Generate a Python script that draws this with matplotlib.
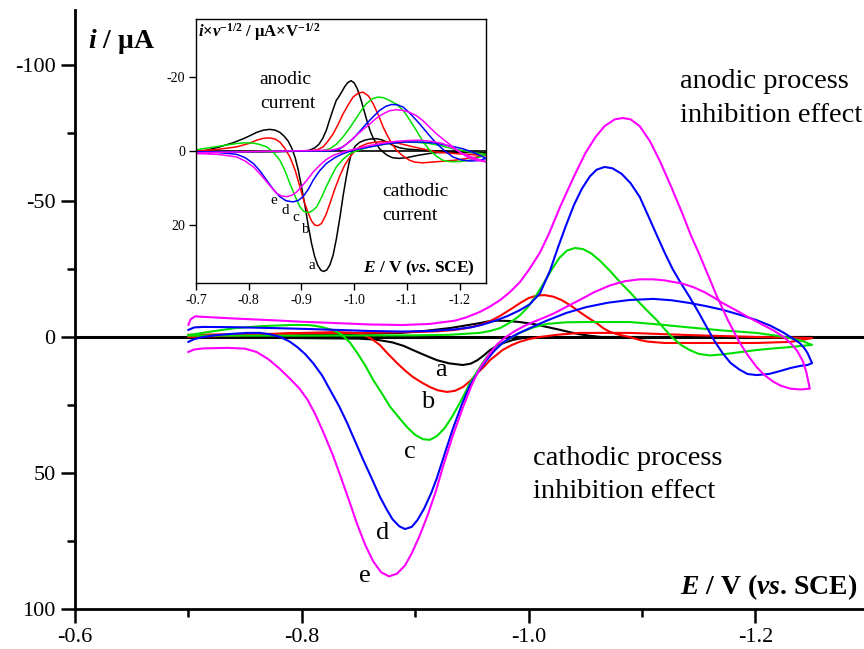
import matplotlib
matplotlib.use("Agg")
import matplotlib.pyplot as plt

plt.rcParams['font.family'] = 'Liberation Serif'
plt.rcParams['axes.unicode_minus'] = False
plt.rcParams['mathtext.fontset'] = 'custom'
plt.rcParams['mathtext.rm'] = 'Liberation Serif:bold'
plt.rcParams['mathtext.it'] = 'Liberation Serif:italic:bold'
plt.rcParams['mathtext.bf'] = 'Liberation Serif:bold'

# ---- main CVs: potential (V vs SCE) and current (uA), forward then reverse sweep ----
E_a = [-0.700, -0.800, -0.850, -0.866, -0.880, -0.890, -0.898, -0.908, -0.919, -0.930, -0.942, -0.949, -0.955,
       -0.961, -0.966, -0.972, -0.978, -0.986, -0.995, -1.020, -1.050, -1.250,
       -1.150, -1.100, -1.070, -1.055, -1.045, -1.036, -1.028, -1.016, -1.004, -0.992, -0.982, -0.972, -0.964,
       -0.957, -0.944, -0.931, -0.910, -0.887, -0.850, -0.800, -0.700]
i_a = [0.0, 0.4, 0.6, 1.0, 2.0, 3.3, 4.8, 6.6, 8.5, 9.7, 10.3, 9.8, 8.5,
       6.6, 4.8, 3.3, 2.2, 1.1, 0.4, 0.1, 0.0, 0.0,
       0.2, 0.4, 0.3, -0.4, -1.0, -1.8, -2.6, -3.7, -4.8, -5.5, -5.9, -6.0, -5.7,
       -5.1, -4.2, -3.3, -2.3, -1.5, -1.1, -0.8, -0.5]

E_b = [-0.700, -0.730, -0.760, -0.800, -0.830, -0.842, -0.850, -0.856, -0.862, -0.869, -0.876, -0.884, -0.891,
       -0.898, -0.906, -0.913, -0.920, -0.928, -0.935, -0.942, -0.949, -0.955, -0.961, -0.966, -0.972, -0.977,
       -0.985, -0.992, -1.001, -1.010, -1.025, -1.045, -1.089, -1.142, -1.200, -1.250,
       -1.240, -1.231, -1.201, -1.160, -1.120, -1.105, -1.098, -1.089, -1.080, -1.072, -1.066, -1.060, -1.052,
       -1.045, -1.037, -1.029, -1.022, -1.014, -1.007, -1.000, -0.993, -0.985, -0.975, -0.966, -0.957, -0.946,
       -0.935, -0.920, -0.900, -0.850, -0.780, -0.700]
i_b = [0.0, -0.4, -0.8, -1.5, -1.8, -1.6, -1.2, -0.5, 0.8, 3.0, 6.2, 9.6, 12.3,
       14.7, 16.8, 18.4, 19.6, 20.2, 19.8, 18.4, 16.0, 13.2, 10.8, 8.5, 6.5, 4.8,
       3.0, 1.8, 0.7, 0.0, -0.8, -1.5, -1.5, -0.7, 0.0, 0.4,
       1.2, 1.8, 2.2, 2.2, 2.2, 1.7, 1.1, 0.0, -0.8, -1.8, -3.2, -5.1, -7.2,
       -9.2, -11.6, -13.6, -14.8, -15.4, -15.2, -14.3, -12.6, -10.4, -7.8, -5.8, -4.4, -3.3,
       -2.6, -2.1, -1.8, -1.5, -1.2, -0.8]

E_c = [-0.700, -0.720, -0.742, -0.765, -0.790, -0.805, -0.812, -0.819, -0.827, -0.834, -0.842, -0.849, -0.856,
       -0.863, -0.871, -0.878, -0.886, -0.893, -0.900, -0.907, -0.913, -0.919, -0.926, -0.933, -0.941, -0.948,
       -0.956, -0.963, -0.970, -0.977, -0.985, -0.992, -1.004, -1.016, -1.033, -1.051, -1.089, -1.115, -1.142,
       -1.171, -1.201, -1.220, -1.231, -1.242, -1.250,
       -1.240, -1.231, -1.216, -1.201, -1.186, -1.171, -1.160, -1.150, -1.142, -1.134, -1.127, -1.120, -1.113,
       -1.105, -1.098, -1.090, -1.081, -1.072, -1.063, -1.055, -1.048, -1.041, -1.034, -1.027, -1.020, -1.013,
       -1.006, -0.999, -0.992, -0.984, -0.975, -0.966, -0.957, -0.930, -0.900, -0.800, -0.700]
i_c = [-0.7, -2.0, -3.3, -4.0, -4.4, -4.4, -4.1, -3.5, -2.6, -1.2, 1.8, 5.9, 10.5,
       15.8, 21.0, 25.7, 29.8, 33.2, 36.0, 37.6, 37.8, 36.5, 33.5, 29.0, 23.0, 17.2,
       11.8, 7.4, 4.4, 2.2, 0.2, -1.5, -3.5, -4.8, -5.4, -5.5, -5.5, -4.6, -3.5,
       -2.4, -1.5, -0.4, 0.4, 1.6, 2.9,
       3.3, 3.7, 4.2, 4.8, 5.6, 6.4, 6.8, 6.2, 4.8, 2.8, 0.3, -2.9, -6.2,
       -9.5, -12.5, -16.2, -20.0, -24.2, -28.0, -30.8, -32.3, -32.7, -31.8, -29.0, -24.5, -19.5,
       -14.8, -10.8, -7.8, -5.4, -3.3, -2.2, -1.5, -0.8, -0.6, -0.5, -0.5]

E_d = [-0.700, -0.705, -0.713, -0.725, -0.740, -0.752, -0.763, -0.772, -0.781, -0.789, -0.796, -0.803, -0.810,
       -0.818, -0.825, -0.833, -0.840, -0.847, -0.854, -0.862, -0.869, -0.875, -0.880, -0.886, -0.891, -0.897,
       -0.902, -0.908, -0.914, -0.919, -0.926, -0.933, -0.941, -0.948, -0.956, -0.963, -0.970, -0.977, -0.985,
       -0.992, -1.004, -1.016, -1.033, -1.051, -1.070, -1.089, -1.110, -1.126, -1.142, -1.157, -1.171, -1.186,
       -1.201, -1.213, -1.224, -1.232, -1.239, -1.243, -1.246, -1.250,
       -1.246, -1.240, -1.231, -1.222, -1.212, -1.201, -1.193, -1.186, -1.178, -1.171, -1.164, -1.157, -1.150,
       -1.142, -1.134, -1.127, -1.120, -1.113, -1.105, -1.098, -1.090, -1.082, -1.074, -1.067, -1.060, -1.054,
       -1.047, -1.040, -1.033, -1.026, -1.019, -1.010, -1.001, -0.992, -0.982, -0.972, -0.960, -0.950, -0.935,
       -0.913, -0.889, -0.860, -0.831, -0.800, -0.772, -0.740, -0.713, -0.705, -0.700]
i_d = [1.8, 0.8, 0.0, -0.7, -1.2, -1.5, -1.5, -1.0, 0.0, 1.6, 3.7, 6.3, 9.6,
       14.2, 19.5, 25.5, 31.6, 38.3, 45.0, 52.3, 58.8, 63.5, 67.0, 69.6, 70.6, 69.8,
       67.3, 63.0, 57.5, 52.0, 43.0, 34.0, 25.0, 18.0, 12.5, 8.5, 5.0, 2.2, 0.0,
       -1.5, -3.8, -6.0, -8.8, -11.0, -12.6, -13.6, -14.0, -13.5, -12.5, -11.3, -10.0, -8.2,
       -6.2, -4.2, -1.8, 0.3, 2.2, 4.0, 5.9, 9.6,
       10.3, 10.6, 11.4, 12.5, 13.6, 14.0, 13.6, 12.0, 9.5, 5.9, 1.5, -3.7, -9.0,
       -14.7, -20.0, -25.0, -31.0, -37.5, -45.0, -51.5, -56.5, -60.0, -62.0, -62.5, -61.5, -59.0,
       -54.5, -48.5, -41.0, -33.0, -24.5, -16.0, -12.0, -9.8, -7.8, -6.2, -4.6, -3.6, -2.8,
       -2.2, -2.0, -2.2, -2.6, -3.0, -3.3, -3.6, -3.7, -3.5, -2.6]

E_e = [-0.700, -0.705, -0.713, -0.735, -0.750, -0.760, -0.770, -0.780, -0.790, -0.798, -0.805, -0.812, -0.819,
       -0.827, -0.834, -0.842, -0.849, -0.856, -0.863, -0.870, -0.877, -0.884, -0.891, -0.897, -0.904, -0.911,
       -0.918, -0.925, -0.933, -0.942, -0.950, -0.957, -0.965, -0.972, -0.980, -0.988, -0.996, -1.004, -1.013,
       -1.022, -1.033, -1.045, -1.058, -1.072, -1.085, -1.098, -1.110, -1.120, -1.136, -1.146, -1.155, -1.163,
       -1.171, -1.183, -1.195, -1.206, -1.216, -1.225, -1.232, -1.237, -1.242, -1.245, -1.248,
       -1.240, -1.231, -1.223, -1.216, -1.208, -1.201, -1.193, -1.186, -1.176, -1.166, -1.158, -1.151, -1.143,
       -1.136, -1.126, -1.116, -1.107, -1.098, -1.090, -1.083, -1.076, -1.067, -1.059, -1.050, -1.040, -1.028,
       -1.018, -1.010, -1.000, -0.992, -0.983, -0.975, -0.966, -0.957, -0.945, -0.935, -0.913, -0.889, -0.860,
       -0.831, -0.800, -0.772, -0.740, -0.713, -0.706, -0.702, -0.700]
i_e = [5.5, 4.6, 4.2, 4.0, 4.3, 5.5, 8.0, 11.5, 15.5, 19.0, 23.0, 28.5, 35.0,
       43.0, 51.0, 60.5, 69.0, 76.5, 82.5, 86.5, 88.0, 87.0, 84.0, 79.5, 73.0, 65.5,
       57.0, 47.0, 36.5, 26.0, 17.5, 11.5, 6.5, 2.8, 0.0, -2.2, -4.0, -5.5, -7.0,
       -8.6, -11.0, -13.6, -16.5, -19.0, -20.5, -21.2, -21.2, -20.8, -19.6, -18.2, -16.5, -14.6,
       -12.5, -9.8, -7.0, -4.6, -2.4, 0.0, 2.7, 5.2, 9.0, 13.0, 19.0,
       19.3, 19.0, 18.0, 16.5, 14.0, 11.0, 6.5, 2.0, -6.0, -15.0, -23.0, -30.0, -37.5,
       -45.0, -55.0, -64.5, -72.0, -77.5, -80.0, -80.5, -80.0, -77.5, -73.5, -67.5, -59.0, -48.0,
       -38.0, -31.0, -24.5, -20.0, -16.3, -13.6, -11.2, -9.2, -7.2, -6.0, -4.8, -4.4, -4.6,
       -5.1, -5.6, -6.2, -6.8, -7.4, -7.6, -6.5, -4.5]

# ---- inset: normalised current i*v^-1/2 ----
Ein_a = [-0.700, -0.720, -0.745, -0.770, -0.790, -0.805, -0.815, -0.828, -0.840, -0.850, -0.859, -0.867, -0.875,
         -0.882, -0.888, -0.894, -0.900, -0.907, -0.913, -0.919, -0.925, -0.931, -0.937, -0.942, -0.948, -0.954,
         -0.960, -0.966, -0.973, -0.979, -0.985, -0.990, -0.995, -1.002, -1.010, -1.020, -1.030, -1.042, -1.052,
         -1.062, -1.072, -1.085, -1.100, -1.130, -1.180, -1.250,
         -1.187, -1.150, -1.120, -1.100, -1.085, -1.072, -1.062, -1.055, -1.048, -1.041, -1.035, -1.030, -1.024,
         -1.018, -1.012, -1.006, -1.000, -0.994, -0.988, -0.982, -0.976, -0.970, -0.966, -0.960, -0.953, -0.947,
         -0.940, -0.933, -0.925, -0.915, -0.905, -0.850, -0.780, -0.700]
yin_a = [0.3, -0.2, -1.1, -2.2, -3.3, -4.3, -5.0, -5.6, -5.8, -5.6, -5.0, -4.0, -2.6,
         -0.6, 1.8, 5.2, 9.6, 15.0, 20.2, 24.8, 28.4, 30.8, 32.1, 32.4, 32.0, 30.6,
         28.0, 23.8, 17.8, 12.0, 7.0, 3.3, 0.5, -1.3, -2.3, -2.9, -3.2, -3.3, -3.0,
         -2.4, -1.6, -0.9, -0.5, -0.2, 0.2, 0.5,
         0.3, 0.5, 1.2, 1.8, 2.0, 1.8, 1.1, 0.3, -0.6, -2.2, -3.8, -5.5, -8.2,
         -11.2, -14.2, -16.7, -18.3, -18.9, -18.4, -17.3, -15.8, -14.4, -13.6, -11.2, -8.2, -5.5,
         -3.3, -1.8, -0.8, -0.2, 0.0, 0.2, 0.3, 0.3]

Ein_b = [-0.700, -0.740, -0.777, -0.800, -0.815, -0.828, -0.840, -0.850, -0.859, -0.868, -0.878, -0.888, -0.897,
         -0.905, -0.913, -0.919, -0.925, -0.931, -0.938, -0.946, -0.954, -0.963, -0.973, -0.982, -0.992, -1.001,
         -1.010, -1.025, -1.042, -1.060, -1.080, -1.095, -1.112, -1.135, -1.156, -1.200, -1.250,
         -1.220, -1.190, -1.156, -1.130, -1.115, -1.105, -1.093, -1.080, -1.070, -1.062, -1.055, -1.046, -1.036,
         -1.027, -1.017, -1.008, -0.998, -0.989, -0.979, -0.970, -0.960, -0.950, -0.941, -0.930, -0.916, -0.800,
         -0.700]
yin_b = [0.0, -0.4, -1.1, -2.0, -2.9, -3.4, -3.5, -3.2, -2.4, -0.8, 1.6, 5.2, 9.6,
         13.6, 16.8, 18.8, 19.9, 20.1, 19.5, 17.3, 14.1, 10.3, 6.6, 3.8, 1.6, 0.0,
         -1.1, -2.0, -2.4, -2.5, -2.2, -1.7, -1.1, -0.4, 0.3, 0.8, 1.2,
         1.9, 2.5, 2.9, 3.2, 3.0, 2.5, 1.4, -0.2, -2.3, -4.4, -6.4, -9.6, -12.7,
         -14.8, -15.8, -15.6, -14.5, -12.5, -10.0, -7.3, -4.6, -2.6, -1.1, -0.3, 0.0, 0.2,
         0.3]

Ein_c = [-0.700, -0.740, -0.777, -0.793, -0.809, -0.822, -0.834, -0.847, -0.859, -0.869, -0.878, -0.888, -0.897,
         -0.904, -0.910, -0.917, -0.923, -0.929, -0.938, -0.947, -0.957, -0.966, -0.979, -0.992, -1.010, -1.030,
         -1.060, -1.093, -1.120, -1.143, -1.165, -1.187, -1.220, -1.250,
         -1.235, -1.219, -1.203, -1.187, -1.178, -1.168, -1.156, -1.143, -1.130, -1.118, -1.105, -1.093, -1.080,
         -1.067, -1.056, -1.045, -1.034, -1.023, -1.012, -1.001, -0.990, -0.979, -0.967, -0.954, -0.940, -0.929,
         -0.800, -0.700]
yin_c = [-0.3, -1.2, -2.0, -2.2, -2.1, -1.7, -1.1, 0.4, 2.5, 5.4, 8.8, 12.2, 15.0,
         16.2, 16.6, 16.4, 15.8, 15.0, 12.5, 9.6, 6.7, 4.3, 2.2, 0.7, -0.3, -1.1,
         -1.9, -2.4, -2.3, -2.0, -1.4, -0.6, 0.3, 0.9,
         1.8, 2.5, 2.8, 2.9, 2.8, 2.5, 1.4, -0.2, -2.6, -5.5, -8.4, -10.9, -12.6,
         -13.6, -14.3, -14.5, -14.0, -12.7, -10.6, -8.2, -5.9, -3.8, -1.9, -0.6, -0.1, 0.0,
         0.2, 0.3]

Ein_d = [-0.700, -0.740, -0.777, -0.793, -0.809, -0.822, -0.834, -0.847, -0.859, -0.871, -0.884, -0.894, -0.903,
         -0.913, -0.922, -0.934, -0.947, -0.963, -0.979, -1.000, -1.030, -1.060, -1.093, -1.125, -1.156, -1.180,
         -1.206, -1.230, -1.250,
         -1.235, -1.219, -1.203, -1.187, -1.172, -1.156, -1.140, -1.124, -1.108, -1.093, -1.082, -1.071, -1.060,
         -1.048, -1.036, -1.023, -1.010, -0.998, -0.985, -0.973, -0.960, -0.947, -0.800, -0.700]
yin_d = [0.3, 0.4, 0.9, 1.8, 3.4, 5.5, 7.9, 10.4, 12.3, 13.4, 13.7, 13.3, 12.3,
         10.3, 7.9, 5.4, 3.4, 1.8, 0.7, -0.3, -1.1, -1.9, -2.4, -2.4, -2.1, -1.4,
         -0.6, 0.6, 2.0,
         2.6, 2.7, 2.4, 1.6, 0.0, -2.0, -4.6, -7.3, -9.8, -11.8, -12.4, -12.5, -12.0,
         -10.9, -9.2, -7.3, -5.2, -3.3, -1.8, -0.6, -0.1, 0.0, 0.2, 0.3]

Ein_e = [-0.700, -0.740, -0.777, -0.793, -0.809, -0.822, -0.834, -0.844, -0.853, -0.862, -0.872, -0.882, -0.891,
         -0.900, -0.910, -0.922, -0.935, -0.947, -0.960, -0.976, -0.992, -1.010, -1.030, -1.055, -1.080, -1.102,
         -1.124, -1.146, -1.168, -1.187, -1.206, -1.228, -1.250,
         -1.235, -1.219, -1.203, -1.187, -1.172, -1.156, -1.143, -1.130, -1.118, -1.105, -1.092, -1.080, -1.067,
         -1.055, -1.042, -1.030, -1.017, -1.004, -0.991, -0.979, -0.966, -0.954, -0.800, -0.700]
yin_e = [0.7, 0.9, 1.6, 2.7, 4.3, 6.3, 8.3, 10.0, 11.4, 12.1, 12.3, 11.9, 11.0,
         9.6, 7.9, 5.7, 3.8, 2.3, 1.2, 0.4, -0.2, -0.8, -1.5, -2.1, -2.6, -2.8,
         -2.9, -2.6, -2.0, -0.8, 0.7, 1.9, 2.9,
         2.6, 2.0, 0.6, -1.1, -2.8, -4.6, -6.4, -8.2, -9.5, -10.4, -10.9, -11.1, -10.8,
         -10.0, -8.8, -7.3, -5.8, -4.2, -2.5, -1.1, -0.5, -0.2, 0.2, 0.5]

colors = ['black', '#ff0000', '#00e000', '#0000ff', '#ff00ff']
letters = ['a', 'b', 'c', 'd', 'e']

main_curves = [(E_a, i_a), (E_b, i_b), (E_c, i_c), (E_d, i_d), (E_e, i_e)]
inset_curves = [(Ein_a, yin_a), (Ein_b, yin_b), (Ein_c, yin_c), (Ein_d, yin_d), (Ein_e, yin_e)]

fig = plt.figure(figsize=(8.64, 6.49), dpi=100)
ax = fig.add_axes([0.0868, 0.0616, 0.9132, 0.923])

ax.axhline(0, color='black', lw=2.2, zorder=1)
for (E, cur), col in zip(main_curves, colors):
    ax.plot(E, cur, color=col, lw=1.5, zorder=2)

ax.set_xlim(-0.6, -1.2958)
ax.set_ylim(100, -120.2)
ax.set_xticks([-0.6, -0.8, -1.0, -1.2])
ax.set_xticks([-0.7, -0.9, -1.1], minor=True)
ax.set_xticklabels(['-0.6', '-0.8', '-1.0', '-1.2'])
ax.set_yticks([-100, -50, 0, 50, 100])
ax.set_yticks([-75, -25, 25, 75], minor=True)
ax.set_yticklabels(['-100', '-50', '0', '50', '100'])
ax.spines['top'].set_visible(False)
ax.spines['right'].set_visible(False)
ax.spines['left'].set_linewidth(2)
ax.spines['bottom'].set_linewidth(2)
ax.tick_params(which='major', direction='out', length=10, width=1.8, labelsize=16, pad=4)
ax.tick_params(which='minor', direction='out', length=6, width=1.8)

ax.text(0.0165, 0.947, r'$i$ / μA', transform=ax.transAxes, fontsize=20, fontweight='bold',
        ha='left', va='center')
ax.text(0.992, 0.037, r'$E$ / V ($vs$. SCE)', transform=ax.transAxes, fontsize=20, fontweight='bold',
        ha='right', va='center')

ax.text(-1.1335, -98.5, 'anodic process\ninhibition effect', fontsize=20.5, ha='left', va='top',
        linespacing=1.45)
ax.text(-1.004, 40, 'cathodic process\ninhibition effect', fontsize=20.5, ha='left', va='top',
        linespacing=1.45)

main_lbl_E = [-0.9228, -0.911, -0.895, -0.871, -0.8557]
main_lbl_i = [12.1, 23.9, 42.3, 72.0, 87.9]
for lt, xe, yi in zip(letters, main_lbl_E, main_lbl_i):
    ax.text(xe, yi, lt, fontsize=19, ha='center', va='center')

# ---- inset ----
axin = fig.add_axes([0.2269, 0.564, 0.3356, 0.4068])
axin.axhline(0, color='black', lw=1.2, zorder=1)
for (E, y), col in zip(inset_curves, colors):
    axin.plot(E, y, color=col, lw=1.1, zorder=2)
axin.set_xlim(-0.7, -1.25)
axin.set_ylim(35.5, -35.5)
axin.set_xticks([-0.7, -0.8, -0.9, -1.0, -1.1, -1.2])
axin.set_xticklabels(['-0.7', '-0.8', '-0.9', '-1.0', '-1.1', '-1.2'])
axin.set_yticks([-20, 0, 20])
axin.set_yticklabels(['-20', '0', '20'])
for sp in axin.spines.values():
    sp.set_linewidth(1.0)
axin.tick_params(direction='out', length=5, width=1, labelsize=10, pad=3)

axin.text(0.007, 0.95, r'$i$×$v$$^{-1/2}$ / μA×V$^{-1/2}$', transform=axin.transAxes,
          fontsize=12, fontweight='bold', ha='left', va='center')
axin.text(0.962, 0.057, r'$E$ / V ($vs$. SCE)', transform=axin.transAxes, fontsize=12.5,
          fontweight='bold', ha='right', va='center')
axin.text(-0.821, -21.6, 'anodic\ncurrent', fontsize=14, ha='left', va='top', linespacing=1.55)
axin.text(-1.054, 8.7, 'cathodic\ncurrent', fontsize=14, ha='left', va='top', linespacing=1.55)

in_lbl_E = [-0.920, -0.906, -0.889, -0.869, -0.848]
in_lbl_y = [30.9, 21.0, 17.8, 15.9, 13.2]
for lt, xe, yv in zip(letters, in_lbl_E, in_lbl_y):
    axin.text(xe, yv, lt, fontsize=11, ha='center', va='center')

fig.savefig('out.png', dpi=100)
